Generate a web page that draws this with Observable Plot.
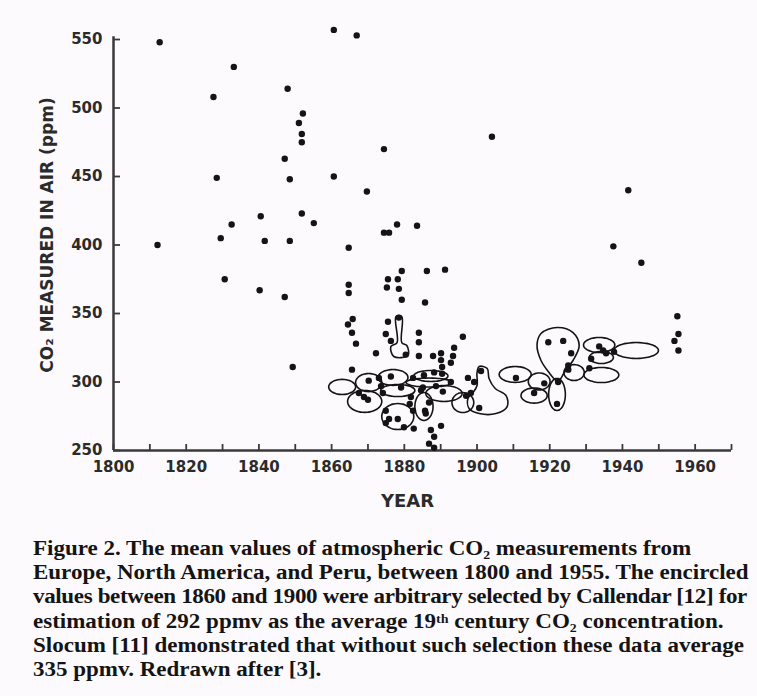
<!DOCTYPE html>
<html><head><meta charset="utf-8">
<script src="https://cdn.jsdelivr.net/npm/d3@7"></script>
<script src="https://cdn.jsdelivr.net/npm/@observablehq/plot@0.6"></script>
<style>
html,body{margin:0;padding:0;background:#fdfafd;}
body{width:757px;height:696px;overflow:hidden;}
#chart svg{display:block;}
#caption{font-family:"Liberation Serif","Times New Roman",serif;font-weight:bold;font-size:20px;line-height:24.2px;color:#141414;padding-left:28.7px;margin-top:11px;white-space:pre;transform:scaleX(1.15);transform-origin:0 0;}
#caption .tight{letter-spacing:-0.3px;}
</style></head><body>
<div id="chart"></div>
<div id="caption"></div>
<script>
// --- data ---
const years = [1812.7,1812.1,1827.5,1828.4,1829.5,1833.1,1832.5,1830.6,1840.5,1841.6,1840.2,1847.9,1847.1,1848.5,1848.5,1847.1,1849.3,1852.1,1851.0,1851.8,1851.8,1851.8,1855.1,1860.6,1866.9,1860.6,1869.7,1874.4,1904.1,1874.4,1875.8,1878.0,1883.5,1864.7,1941.6,1937.5,1945.2,1955.1,1955.4,1954.3,1955.4,
 1879.3,1886.2,1891.2,1875.5,1878.2,1875.2,1878.5,1864.7,1864.7,1879.3,1885.7,1865.8,1864.5,1865.6,1866.7,1875.5,1878.5,1874.9,1876.3,1880.4,1872.2,1884.0,1884.0,1884.0,1887.9,1890.1,1890.1,1890.4,1890.4,1893.7,1893.4,1892.8,1896.1,1865.6,
 1870.2,1873.0,1876.3,1868.9,1870.0,1873.6,1879.1,1882.4,1885.4,1888.2,1885.1,1888.7,1890.6,1892.8,1881.8,1881.5,1882.4,1874.9,1875.8,1878.2,1874.9,1879.9,1882.6,1885.7,1886.8,1887.3,1888.2,1890.1,1886.8,1888.2,1898.3,1899.2,1900.6,1901.1,1897.0,1910.7,1915.7,1918.5,1919.6,1923.7,1925.9,1925.1,1925.1,1922.0,1922.3,1930.9,1931.4,1934.7,1935.5,1937.7,1933.6,1867.5,1885.9,1884.6,1874.1,1897.5];
const ppm = [548,400,508,449,405,530,415,375,421,403,367,514,463,448,403,362,311,496,489,481,475,423,416,557,553,450,439,470,479,409,409,415,414,398,440,399,387,348,335,330,323,
 381,381,382,375,375,369,368,371,365,360,358,346,342,336,328,344,347,335,330,320,321,336,329,319,319,321,316,311,306,325,319,314,333,309,
 301,303,304,289,287,297,296,303,305,307,296,297,293,300,289,284,279,279,273,273,270,267,266,279,285,265,260,268,255,252,292,300,281,308,290,303,292,299,329,330,321,312,309,284,300,310,317,323,321,322,326,292,277,294,292,303];

// encircling ellipses: centre year, centre ppm, half-width (years), half-height (ppm)
const ellYear = [1862.9,1869.1,1870.2,1876.9,1878.2,1886.8,1887.3,1890.9,1878.2,1885.4,1896.1,1910.5,1915.7,1917.1,1922.0,1926.7,1934.2,1933.6,1934.2,1943.8];
const ellPpm  = [296.4,285.8,299.6,303.3,293.8,299.6,304.4,291.6,274.8,282.1,285.0,305.5,290.1,300.4,290.9,306.9,305.1,327.0,317.9,323.0];
const ellRx   = [3.7,4.7,3.6,4.1,4.7,6.3,4.7,5.0,4.4,2.5,3.0,4.4,3.6,3.0,2.3,2.8,4.8,4.3,3.3,6.1];
const ellRy   = [5.5,8.0,6.6,5.8,4.4,3.3,4.0,5.8,9.5,10.2,7.3,5.8,5.5,6.2,11.7,5.8,5.5,5.5,4.4,5.8];

// irregular encircling outlines
const blobYear = [1900.6,1902.8,1903.3,1905.0,1908.0,1908.3,1905.2,1900.6,1897.8,1897.5,1898.9,1900.0,1900.0];
const blobPpm  = [311.3,309.9,302.6,295.3,290.1,282.1,277.0,277.0,280.7,288.0,292.3,297.4,307.0];
const dropYear = [1921.8,1919.8,1917.6,1916.5,1917.6,1922.0,1926.4,1928.1,1926.4,1924.0,1922.6];
const dropPpm  = [301.1,306.9,315.7,326.6,335.4,339.8,336.1,326.6,315.7,306.9,301.1];
const keyYear  = [1877.7,1879.3,1879.3,1880.7,1881.0,1877.1,1876.3,1878.0];
const keyPpm   = [347.8,347.8,328.8,326.6,319.3,318.6,325.9,328.8];

const xTicks = [1800,1810,1820,1830,1840,1850,1860,1870,1880,1890,1900,1910,1920,1930,1940,1950,1960,1970];
const yTicks = [250,300,350,400,450,500,550];
const xLabel = "YEAR";
const yLabel = "CO\u2082 MEASURED IN AIR (ppm)";
const captionLines = [
  "Figure 2. The mean values of atmospheric CO\u2082 measurements from",
  "Europe, North America, and Peru, between 1800 and 1955. The encircled",
  "values between 1860 and 1900 were arbitrary selected by Callendar [12] for",
  "estimation of 292 ppmv as the average 19\u1d57\u02b0 century CO\u2082 concentration.",
  "Slocum [11] demonstrated that without such selection these data average",
  "335 ppmv. Redrawn after [3]."
];

// --- build tables ---
const points = years.map((y, i) => ({year: y, ppm: ppm[i]}));
const shapes = [];
ellYear.forEach((cx, i) => {
  for (let k = 0; k < 40; k++) {
    const t = 2 * Math.PI * k / 40;
    shapes.push({id: "e" + i, year: cx + ellRx[i] * Math.cos(t), ppm: ellPpm[i] + ellRy[i] * Math.sin(t)});
  }
});
blobYear.forEach((x, i) => shapes.push({id: "blob", year: x, ppm: blobPpm[i]}));
dropYear.forEach((x, i) => shapes.push({id: "drop", year: x, ppm: dropPpm[i]}));
keyYear.forEach((x, i) => shapes.push({id: "key", year: x, ppm: keyPpm[i]}));

const ink = "#3a3a3a";
const chart = Plot.plot({
  width: 757, height: 525,
  marginLeft: 113, marginRight: 26, marginTop: 39, marginBottom: 75,
  style: {background: "transparent", fontFamily: "DejaVu Sans", fontSize: "15px", fontWeight: "bold", color: "#2b2b2b"},
  x: {domain: [1800, 1970]},
  y: {domain: [250, 550]},
  marks: [
    Plot.ruleY([250], {stroke: ink, strokeWidth: 2.5}),
    Plot.ruleX([1800], {y1: 250, y2: 552, stroke: ink, strokeWidth: 2.5}),
    Plot.axisX({ticks: xTicks, tickSize: -6, tickPadding: 17, stroke: ink, strokeWidth: 1.8, tickFormat: d => d % 20 === 0 ? String(d) : "", label: null}),
    Plot.axisY({ticks: yTicks, tickSize: -7, tickPadding: 18, stroke: ink, strokeWidth: 1.8, tickFormat: d => String(d), label: null}),
    Plot.text([yLabel], {frameAnchor: "left", textAnchor: "middle", dx: -66, dy: -10, rotate: -90, fontSize: 17, fill: "#2b2b2b"}),
    Plot.text([xLabel], {frameAnchor: "bottom", textAnchor: "middle", dx: -15, dy: 56, fontSize: 18, fill: "#2b2b2b"}),
    Plot.line(shapes, {x: "year", y: "ppm", z: "id", curve: "catmull-rom-closed", stroke: "#141414", strokeWidth: 1.6}),
    Plot.dot(points, {x: "year", y: "ppm", r: 3.2, fill: "#141414", stroke: "none"})
  ]
});
document.getElementById("chart").appendChild(chart);
const cap = document.getElementById("caption");
captionLines.forEach((line, i) => {
  const div = document.createElement("div");
  if (i === 2) div.className = "tight";
  div.textContent = line;
  cap.appendChild(div);
});
</script>
</body></html>
